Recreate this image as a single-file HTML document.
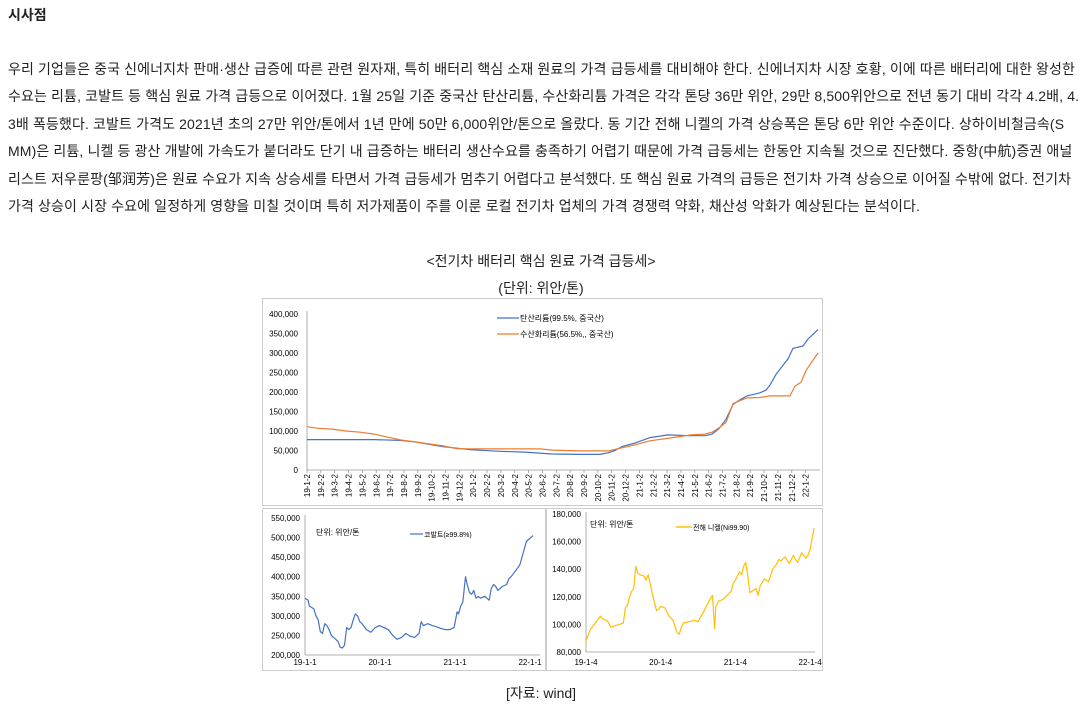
<!DOCTYPE html>
<html><head><meta charset="utf-8">
<style>
body{margin:0;background:#fff;width:1089px;height:720px;overflow:hidden;font-family:"Liberation Sans","Noto Sans CJK KR",sans-serif;color:#222;}
.h{position:absolute;left:8px;top:5px;font-size:14px;font-weight:bold;}
.p{position:absolute;left:8px;top:56px;font-size:14px;line-height:27.4px;white-space:nowrap;letter-spacing:0.13px;}
.c{position:absolute;left:0;width:1082px;text-align:center;font-size:14px;}
svg{position:absolute;left:0;top:0;}
svg text{font-family:"Liberation Sans","Noto Sans CJK KR",sans-serif;}
</style></head><body>
<div class="h">시사점</div>
<div class="p">우리 기업들은 중국 신에너지차 판매·생산 급증에 따른 관련 원자재, 특히 배터리 핵심 소재 원료의 가격 급등세를 대비해야 한다. 신에너지차 시장 호황, 이에 따른 배터리에 대한 왕성한<br>수요는 리튬, 코발트 등 핵심 원료 가격 급등으로 이어졌다. 1월 25일 기준 중국산 탄산리튬, 수산화리튬 가격은 각각 톤당 36만 위안, 29만 8,500위안으로 전년 동기 대비 각각 4.2배, 4.<br>3배 폭등했다. 코발트 가격도 2021년 초의 27만 위안/톤에서 1년 만에 50만 6,000위안/톤으로 올랐다. 동 기간 전해 니켈의 가격 상승폭은 톤당 6만 위안 수준이다. 상하이비철금속(S<br>MM)은 리튬, 니켈 등 광산 개발에 가속도가 붙더라도 단기 내 급증하는 배터리 생산수요를 충족하기 어렵기 때문에 가격 급등세는 한동안 지속될 것으로 진단했다. 중항(中航)증권 애널<br>리스트 저우룬팡(邹润芳)은 원료 수요가 지속 상승세를 타면서 가격 급등세가 멈추기 어렵다고 분석했다. 또 핵심 원료 가격의 급등은 전기차 가격 상승으로 이어질 수밖에 없다. 전기차<br>가격 상승이 시장 수요에 일정하게 영향을 미칠 것이며 특히 저가제품이 주를 이룬 로컬 전기차 업체의 가격 경쟁력 약화, 채산성 악화가 예상된다는 분석이다.</div>
<div class="c" style="top:251px">&lt;전기차 배터리 핵심 원료 가격 급등세&gt;</div>
<div class="c" style="top:278px">(단위: 위안/톤)</div>
<div class="c" style="top:683px">[자료: wind]</div>
<svg id="s" width="1089" height="720" font-size="8">
<rect x="262.5" y="298.5" width="560" height="207" fill="none" stroke="#ccc"/>
<rect x="262.5" y="508.5" width="283" height="162" fill="none" stroke="#ccc"/>
<rect x="546.5" y="508.5" width="276" height="162" fill="none" stroke="#ccc"/>
<g id="g"></g>
</svg>
<script>
var NS="http://www.w3.org/2000/svg",g=document.getElementById('g');
function el(t,a,tx){var e=document.createElementNS(NS,t);for(var k in a)e.setAttribute(k,a[k]);if(tx!=null)e.textContent=tx;g.appendChild(e);return e;}
function line(pts,c,w){el('polyline',{points:pts.map(function(p){return p[0].toFixed(1)+','+p[1].toFixed(1)}).join(' '),fill:'none',stroke:c,'stroke-width':w||1.2,'stroke-linejoin':'round'});}
function fmt(v){return v===0?'0':v.toLocaleString('en-US');}
var X0=307,Y0=470,ky=0.39/1000;
el('line',{x1:X0,y1:311,x2:X0,y2:Y0,stroke:'#999','stroke-width':0.8});
el('line',{x1:X0,y1:Y0,x2:820,y2:Y0,stroke:'#999','stroke-width':0.8});
for(var v=0;v<=400000;v+=50000){el('text',{x:X0-9,y:Y0-v*ky+3,'text-anchor':'end'},fmt(v));}
var lab=[];for(var y=19;y<=22;y++)for(var m=1;m<=12;m++){if(y==22&&m>1)break;lab.push(y+'-'+m+'-2');}
lab.forEach(function(s,i){var x=X0+i*13.85;el('line',{x1:x,y1:Y0,x2:x,y2:Y0+3,stroke:'#999','stroke-width':0.8});
 el('text',{x:0,y:0,transform:'translate('+(x+3)+','+(Y0+4)+') rotate(-90)','text-anchor':'end','font-size':'8'},s);});
function T(a){return a.map(function(p){return [p[0],Y0-p[1]*1000*ky];});}
line(T([[307,78],[374,78],[400,76],[415,72],[443,60],[470,52],[500,48],[525,46],[552,41],[580,40],[600,40],[608,44],[615,50],[622,60],[636,70],[650,83],[668,90],[690,88],[705,88],[712,92],[719,106],[726,130],[733,168],[740,180],[747,190],[760,198],[766,205],[770,218],[776,245],[782,265],[788,285],[793,312],[803,318],[808,336],[813,348],[818,360]]),'#4472c4');
line(T([[307,111],[318,107],[332,105],[346,100],[360,97],[374,92],[388,84],[401,77],[415,72],[429,67],[443,62],[456,55],[470,54],[540,54],[552,51],[580,49],[608,49],[622,57],[636,65],[650,75],[670,82],[691,90],[705,92],[712,97],[719,108],[726,122],[733,170],[740,178],[747,185],[760,186],[770,190],[790,190],[795,215],[801,225],[806,255],[812,278],[818,300]]),'#ed7d31');
el('line',{x1:497,y1:318,x2:519,y2:318,stroke:'#4472c4','stroke-width':1.2});
el('text',{x:520,y:321,'font-size':'8'},'탄산리튬(99.5%, 중국산)');
el('line',{x1:497,y1:334,x2:519,y2:334,stroke:'#ed7d31','stroke-width':1.2});
el('text',{x:520,y:337,'font-size':'8'},'수산화리튬(56.5%,, 중국산)');
var BX=305,BY=518;function ly(v){return BY+(550-v)*137/350;}
el('line',{x1:BX,y1:515,x2:BX,y2:ly(200),stroke:'#999','stroke-width':0.8});
el('line',{x1:BX,y1:ly(200),x2:540,y2:ly(200),stroke:'#999','stroke-width':0.8});
for(var v=200;v<=550;v+=50)el('text',{x:BX-5,y:ly(v)+3,'text-anchor':'end'},fmt(v*1000));
['19-1-1','20-1-1','21-1-1','22-1-1'].forEach(function(s,i){el('text',{x:BX+i*75,y:665,'text-anchor':'middle'},s);});
var cb=[[0,345],[0.7,340],[1,325],[2,318],[2.5,300],[3,290],[3.5,260],[4,255],[4.5,280],[5,275],[5.5,265],[6,250],[6.5,245],[7,240],[7.5,235],[8,220],[8.5,218],[9,225],[9.5,270],[10,265],[10.5,270],[11,290],[11.5,305],[12,300],[12.5,285],[13,280],[14,265],[15,258],[16,270],[17,275],[18,270],[19,265],[20,250],[21,240],[22,245],[23,255],[24,248],[25,245],[26,255],[26.5,285],[27,275],[28,280],[29,275],[30,272],[31,268],[32,265],[33,265],[34,270],[34.7,310],[35,305],[35.5,325],[36,335],[36.6,400],[37,380],[37.5,360],[38,355],[38.5,365],[39,345],[39.5,350],[40,345],[41,350],[42,340],[42.5,370],[43,380],[43.5,375],[44,365],[45,375],[46,380],[46.5,395],[47,400],[48,415],[49,430],[50,470],[50.5,490],[51,495],[51.5,500],[52,505]];
line(cb.map(function(p){return [BX+p[0]*228/52, ly(p[1])];}),'#4472c4',1.2);
el('text',{x:316,y:535,'font-size':'8'},'단위: 위안/톤');
el('line',{x1:410,y1:534,x2:423,y2:534,stroke:'#4472c4','stroke-width':1.2});
el('text',{x:424,y:537,'font-size':'7'},'코발트(≥99.8%)');
var RX=586;function ry(v){return 514+(180-v)*1.38;}
el('line',{x1:RX,y1:512,x2:RX,y2:ry(80),stroke:'#999','stroke-width':0.8});
el('line',{x1:RX,y1:ry(80),x2:815,y2:ry(80),stroke:'#999','stroke-width':0.8});
for(var v=80;v<=180;v+=20)el('text',{x:RX-5,y:ry(v)+3,'text-anchor':'end'},fmt(v*1000));
['19-1-4','20-1-4','21-1-4','22-1-4'].forEach(function(s,i){el('text',{x:RX+i*74.7,y:665,'text-anchor':'middle'},s);});
var ni=[[0,88],[1,96],[2,100],[3,104],[3.5,106],[4,104],[5,103],[5.5,101],[6,98],[7,99],[8,100],[9,101],[9.5,112],[10,114],[10.5,120],[11,124],[11.5,126],[12,142],[12.5,137],[13,136],[14,135],[14.5,132],[15,136],[16,122],[17,110],[17.5,111],[18,113],[19,112],[20,106],[21,103],[21.5,98],[22,94],[22.5,93],[23,98],[23.5,101],[25,102],[26,103],[27,102],[28,107],[29,113],[30,119],[30.5,121],[31,97],[31.3,113],[32,117],[33,118],[34,121],[35,124],[35.5,130],[36,132],[37,138],[37.5,136],[38,142],[38.5,145],[39,135],[39.5,123],[40,124],[41,126],[41.5,121],[42,128],[43,133],[44,131],[45,140],[46,144],[46.5,147],[47,146],[48,149],[49,144],[50,150],[50.5,147],[51,145],[52,152],[53,148],[53.5,150],[54,154],[55,170]];
line(ni.map(function(p){return [RX+p[0]*224/54,ry(p[1])];}),'#ffc000',1.2);
el('text',{x:590,y:527,'font-size':'8'},'단위: 위안/톤');
el('line',{x1:676,y1:527,x2:692,y2:527,stroke:'#ffc000','stroke-width':1.5});
el('text',{x:693,y:530,'font-size':'7'},'전해 니켈(Ni99.90)');
</script>
</body></html>
